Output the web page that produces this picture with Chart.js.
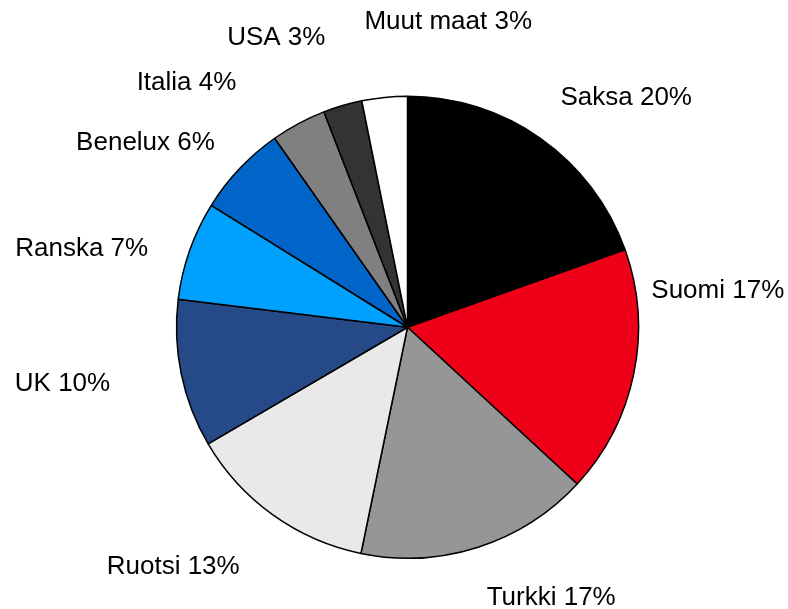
<!DOCTYPE html>
<html>
<head>
<meta charset="utf-8">
<script src="https://cdn.jsdelivr.net/npm/chart.js@4/dist/chart.umd.min.js"></script>
<style>
  html, body { margin: 0; padding: 0; background: #fff; }
  #wrap { width: 788px; height: 609px; position: relative; }
</style>
</head>
<body>
<div id="wrap"><canvas id="myChart"></canvas></div>
<script>
// Maat, osuudet (luettu kuvasta kulmista) ja kuvassa näkyvät pyöristetyt prosentit
const countries = ['Saksa', 'Suomi', 'Turkki', 'Ruotsi', 'UK', 'Ranska', 'Benelux', 'Italia', 'USA', 'Muut maat'];
const shares = [19.56, 17.31, 16.36, 13.34, 10.36, 6.92, 6.40, 3.86, 2.72, 3.17];
const shownPct = [20, 17, 17, 13, 10, 7, 6, 4, 3, 3];

const colors = ['#000000', '#ee0019', '#969696', '#e9e9e9', '#264988', '#00a0ff', '#0064c8', '#808080', '#333333', '#ffffff'];

// tekstien paikat suhteessa ympyrän keskipisteeseen (alaviiva = baseline)
const labelOffsets = [
    [218.7, -221.8], [310.3, -28.8], [143.7, 277.7], [-234.3, 247], [-345, 63.4],
    [-325.8, -71.3], [-262, -177.3], [-221, -237.3], [-131.2, -282.3], [40.7, -298]
];

const outsideLabels = {
    id: 'outsideLabels',
    afterDatasetsDraw(chart) {
        const ctx = chart.ctx;
        const meta = chart.getDatasetMeta(0);
        ctx.save();
        ctx.font = '26px "Liberation Sans", Arial, sans-serif';
        ctx.fillStyle = '#000';
        ctx.textAlign = 'center';
        ctx.textBaseline = 'alphabetic';
        meta.data.forEach((arc, i) => {
            const [dx, dy] = labelOffsets[i];
            ctx.fillText(countries[i] + ' ' + shownPct[i] + '%', arc.x + dx, arc.y + dy);
        });
        ctx.restore();
    }
};

const ctx = document.getElementById('myChart').getContext('2d');
const myChart = new Chart(ctx, {
    type: 'pie',
    data: {
        labels: countries,
        datasets: [{
            data: shares,
            backgroundColor: colors,
            borderColor: '#000',
            borderWidth: 1.5
        }]
    },
    options: {
        responsive: true,
        maintainAspectRatio: false,
        animation: false,
        layout: { padding: { top: 95.5, bottom: 50, left: 100, right: 73 } },
        plugins: {
            legend: { display: false },
            tooltip: { enabled: false }
        }
    },
    plugins: [outsideLabels]
});
</script>
</body>
</html>
